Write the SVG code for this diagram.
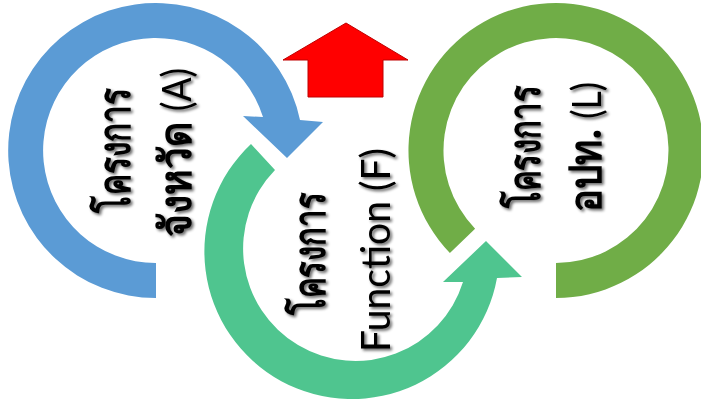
<svg xmlns="http://www.w3.org/2000/svg" width="701" height="410" viewBox="0 0 701 410">
<defs>
<style>
.lbl{font-family:"Noto Sans","DejaVu Sans","Liberation Sans",sans-serif;font-size:44px;font-weight:bold;fill:#000;text-anchor:middle}
.lat{font-family:Lato,"Liberation Sans",sans-serif;font-weight:normal;font-size:40px}
</style>
<filter id="sh" x="-20%" y="-20%" width="140%" height="140%">
<feGaussianBlur in="SourceAlpha" stdDeviation="1.6"/>
<feOffset dx="2" dy="1.5" result="b"/>
<feComponentTransfer><feFuncA type="linear" slope="0.6"/></feComponentTransfer>
<feMerge><feMergeNode/><feMergeNode in="SourceGraphic"/></feMerge>
</filter>
</defs>
<rect width="701" height="410" fill="#fff"/>
<g id="connectors">
<path id="up-arrow" d="M346,23 L408,60 L383,60 L383,97 L308,97 L308,60 L283,60 Z" fill="#ff0000" stroke="#c00000" stroke-width="1"/>
</g>
<g id="node-A">
<path d="M156,298 A147.5,147.5 0 1 1 300,120 L323,122 L287,158 L243,116 L263,117 A112.5,112.5 0 1 0 156,263 Z" fill="#5b9bd5"/>
<g filter="url(#sh)">
<text class="lbl" x="130" y="150" transform="rotate(-90 130 150)" textLength="125" lengthAdjust="spacingAndGlyphs">โครงการ</text>
<text class="lbl" x="191" y="152.5" transform="rotate(-90 191 152.5)" textLength="169" lengthAdjust="spacingAndGlyphs">จังหวัด <tspan class="lat">(A)</tspan></text>
</g>
</g>
<g id="node-F">
<path d="M251,144 A147.5,147.5 0 1 0 497,278 L522,277 L486,241 L443,282 L463,282 A112.5,112.5 0 1 1 275,170 Z" fill="#4fc58f"/>
<g filter="url(#sh)">
<text class="lbl" x="325" y="253.5" transform="rotate(-90 325 253.5)" textLength="123" lengthAdjust="spacingAndGlyphs">โครงการ</text>
<text class="lbl lat" x="390" y="250" transform="rotate(-90 390 250)" textLength="204" lengthAdjust="spacingAndGlyphs">Function (F)</text>
</g>
</g>
<g id="node-L">
<path d="M556,298 A147.5,147.5 0 1 0 449.9,253 L475.1,228.7 A112.5,112.5 0 1 1 556,263 Z" fill="#70ad47"/>
<g filter="url(#sh)">
<text class="lbl" x="540" y="146.5" transform="rotate(-90 540 146.5)" textLength="123" lengthAdjust="spacingAndGlyphs">โครงการ</text>
<text class="lbl" x="601" y="147" transform="rotate(-90 601 147)" textLength="130" lengthAdjust="spacingAndGlyphs">อปท. <tspan class="lat">(L)</tspan></text>
</g>
</g>
</svg>
